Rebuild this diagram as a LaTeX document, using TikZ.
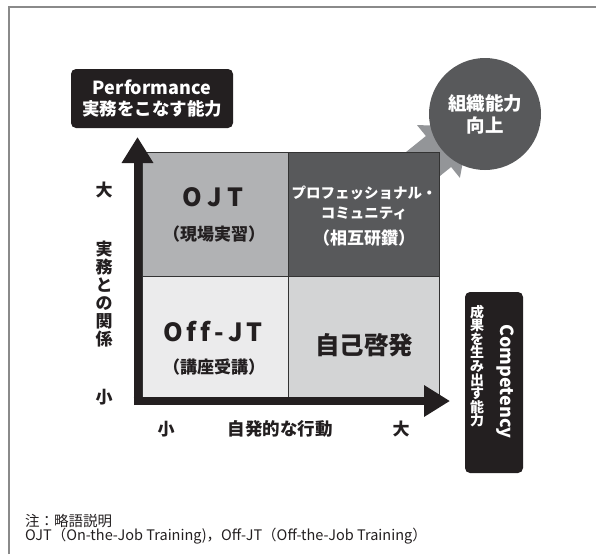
\documentclass[tikz,border=0pt]{standalone}
\usepackage{fontspec}
\setmainfont{Noto Sans CJK JP}
\usetikzlibrary{arrows.meta}
\definecolor{inkc}{HTML}{231F20}
\definecolor{cojt}{HTML}{B1B2B4}
\definecolor{cprof}{HTML}{58595B}
\definecolor{coff}{HTML}{EBEBEC}
\definecolor{cself}{HTML}{D3D4D5}
\definecolor{arrowc}{HTML}{939598}
\definecolor{framec}{HTML}{8A8A8A}
\definecolor{gridc}{HTML}{333333}
\newcommand\fsz[2]{\fontsize{#1pt}{#2pt}\selectfont}
\tikzset{
  cell/.style={draw=gridc, line width=0.8, inner sep=0, minimum width=#1},
  labelbox/.style={fill=inkc, rounded corners=5, inner sep=0},
  axisline/.style={draw=inkc, line width=8, -{Triangle[width=30pt,length=26pt]}},
  celltext/.style={text=inkc, font=\bfseries, align=center, inner sep=0},
  axislabel/.style={text=inkc, font=\bfseries\fsz{17}{18}, align=center, inner sep=0},
}
\begin{document}
\begin{tikzpicture}[x=1pt,y=-1pt]
\useasboundingbox (0,0) rectangle (596,554);
% frame
\draw[framec, line width=1.5] (9,554) -- (9,7) -- (596,7);
% big gray arrow (behind grid and circle)
\fill[arrowc] (379.4,173.5) -- (425.9,136) -- (417,125.1) -- (469.5,126.3) -- (459.9,177.9) -- (451.1,167) -- (404.6,204.5) -- cycle;
% circle
\node[circle, fill=cprof, minimum size=112, inner sep=0, text=white, font=\bfseries\fsz{18.5}{22}, align=center] (org) at (485,114) {組織能力\\向上};
% cells
\node[cell=146, minimum height=124, fill=cojt] (ojt) at (215,214) {};
\node[cell=151, minimum height=124, fill=cprof] (prof) at (363.5,214) {};
\node[cell=146, minimum height=121, fill=coff] (off) at (215,336.5) {};
\node[cell=151, minimum height=121, fill=cself] (self) at (363.5,336.5) {};
% cell texts
\node[celltext, font=\bfseries\fsz{25}{30}] (ojtA) at (213,197) {O\hspace{0.22em}J\hspace{0.22em}T};
\node[celltext, font=\bfseries\fsz{17}{18}] (ojtB) at (214,234) {（現場実習）};
\node[celltext, text=white, font=\bfseries\fsz{14.5}{20}] (profA) at (364,203) {プロフェッショナル・\\コミュニティ};
\node[celltext, text=white, font=\bfseries\fsz{17}{18}] (profB) at (364,238) {（相互研鑽）};
\node[celltext, font=\bfseries\fsz{25}{30}] (offA) at (213,332) {O\hspace{0.16em}f\hspace{0.16em}f\hspace{0.16em}-\hspace{0.16em}J\hspace{0.16em}T};
\node[celltext, font=\bfseries\fsz{17}{18}] (offB) at (214,367) {（講座受講）};
\node[celltext, font=\bfseries\fsz{24.5}{28}] (selfA) at (364,345) {自己啓発};
% axes
\coordinate (vO) at (137.5,405);
\coordinate (vT) at (137.5,137);
\coordinate (hO) at (133.5,401);
\coordinate (hT) at (450,401);
\draw[axisline] (vO) -- (vT);
\draw[axisline] (hO) -- (hT);
% axis labels
\node[axislabel] (yBig) at (104,190) {大};
\node[axislabel] (ySmall) at (104,397) {小};
\node[axislabel] (yName) at (104,294) {実\\務\\と\\の\\関\\係};
\node[axislabel] (xSmall) at (166,429) {小};
\node[axislabel, font=\bfseries\fsz{17.5}{18}] (xName) at (280,429) {自発的な行動};
\node[axislabel] (xBig) at (401,429) {大};
% performance box
\node[labelbox, minimum width=162, minimum height=59] (perf) at (152,98.5) {};
\node[text=white, font=\bfseries\fsz{18}{21}, align=center, inner sep=0] (perfT) at (152,98.5) {Performance\\\fsz{17.5}{21}実務をこなす能力};
% competency box
\node[labelbox, minimum width=58, minimum height=181] (comp) at (494,382.5) {};
\node[text=white, font=\bfseries\fsz{18}{22}, rotate=-90, inner sep=0] (compA) at (505,381.5) {Competency};
\node[text=white, font=\bfseries\fsz{14}{13.6}, align=center, inner sep=0] (compB) at (477,366) {成\\果\\を\\生\\み\\出\\す\\能\\力};
% note
\node[anchor=west, text=inkc, font=\fsz{14.5}{15}, inner sep=0] (note1) at (25,521) {注：略語説明};
\node[anchor=west, text=inkc, font=\fsz{14.5}{15}, inner sep=0] (note2) at (25,536) {OJT（On-the-Job Training)，Off-JT（Off-the-Job Training）};
\end{tikzpicture}
\end{document}
